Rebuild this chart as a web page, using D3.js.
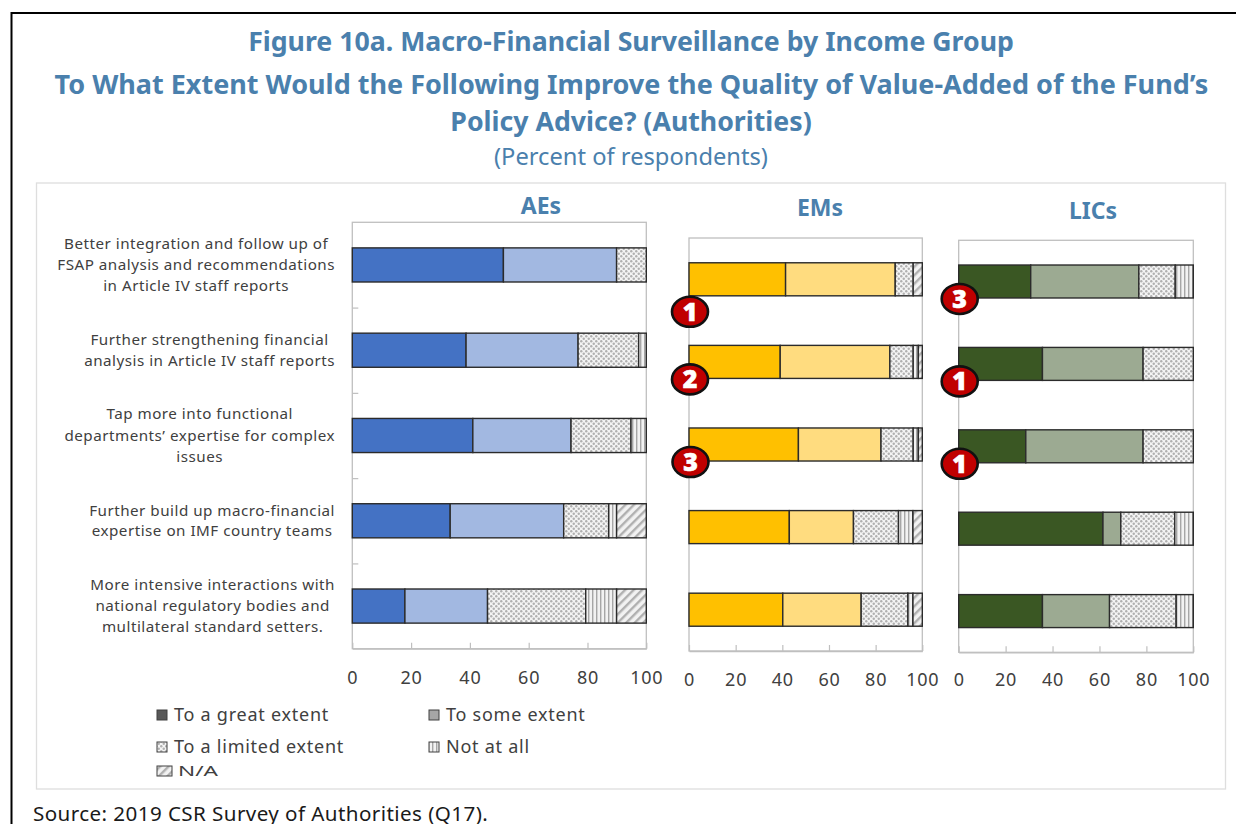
<!DOCTYPE html>
<html>
<head>
<meta charset="utf-8">
<script src="https://cdn.jsdelivr.net/npm/d3@7"></script>
<style>
html, body { margin: 0; padding: 0; background: #fff; overflow: hidden; }
svg { display: block; font-family: "Noto Sans", "Open Sans", sans-serif; }
</style>
</head>
<body>
<svg id="chart" width="1236" height="824"></svg>
<script>
const seriesNames = ["To a great extent", "To some extent", "To a limited extent", "Not at all", "N/A"];
const seriesKeys = ["great", "some", "limited", "notAtAll", "na"];
const rowLabels = [
  ["Better integration and follow up of", "FSAP analysis and recommendations", "in Article IV staff reports"],
  ["Further strengthening financial", "analysis in Article IV staff reports"],
  ["Tap more into functional", "departments\u2019 expertise for complex", "issues"],
  ["Further build up macro-financial", "expertise on IMF country teams"],
  ["More intensive interactions with", "national regulatory bodies and", "multilateral standard setters."]
];
const xTicks = [0, 20, 40, 60, 80, 100];

// values per row, top row first
const aesGreat = [51.4, 38.7, 41.0, 33.3, 17.9];
const aesSome = [38.5, 38.1, 33.4, 38.6, 28.1];
const aesLimited = [10.1, 20.6, 20.4, 15.3, 33.4];
const aesNotAtAll = [0, 2.6, 5.2, 2.7, 10.5];
const aesNa = [0, 0, 0, 10.1, 10.1];

const emsGreat = [41.4, 39.1, 46.9, 43.0, 40.2];
const emsSome = [47.0, 47.0, 35.4, 27.5, 33.6];
const emsLimited = [7.7, 10.0, 13.8, 19.3, 20.0];
const emsNotAtAll = [0, 2.2, 2.2, 6.2, 2.2];
const emsNa = [3.9, 1.7, 1.7, 4.0, 4.0];

const licsGreat = [30.7, 35.7, 28.6, 61.5, 35.7];
const licsSome = [46.1, 42.9, 50.0, 7.6, 28.6];
const licsLimited = [15.5, 21.4, 21.4, 23.0, 28.4];
const licsNotAtAll = [7.7, 0, 0, 7.9, 7.3];
const licsNa = [0, 0, 0, 0, 0];

// rank badges: row index and number shown
const emsBadgeRows = [0, 1, 2];
const emsBadgeRanks = [1, 2, 3];
const licsBadgeRows = [0, 1, 2];
const licsBadgeRanks = [3, 1, 1];

function buildRows(g, s, l, n, a) {
  return g.map(function(d, i) {
    return { row: i, great: d, some: s[i], limited: l[i], notAtAll: n[i], na: a[i] };
  });
}

const panels = [
  { name: "AEs", rows: buildRows(aesGreat, aesSome, aesLimited, aesNotAtAll, aesNa),
    box: [352.3, 646.3, 222.3, 648.7], titleX: 541, titleY: 214, labelY: 684,
    colors: ["#4472c4", "#a2b8e1"], rowTicks: true },
  { name: "EMs", rows: buildRows(emsGreat, emsSome, emsLimited, emsNotAtAll, emsNa),
    box: [689, 922.3, 238, 651], titleX: 820, titleY: 216, labelY: 686,
    colors: ["#ffc000", "#ffdc7f"], badgeRows: emsBadgeRows, badgeRanks: emsBadgeRanks, rowTicks: false },
  { name: "LICs", rows: buildRows(licsGreat, licsSome, licsLimited, licsNotAtAll, licsNa),
    box: [958.7, 1193.3, 240.3, 652.3], titleX: 1093, titleY: 219, labelY: 686,
    colors: ["#3a5723", "#9caa92"], badgeRows: licsBadgeRows, badgeRanks: licsBadgeRanks, rowTicks: false }
];

const blue = "#4a80ad";
const svg = d3.select("#chart");
const defs = svg.append("defs");

// hatch fills
const dots = defs.append("pattern").attr("id", "limited").attr("patternUnits", "userSpaceOnUse")
  .attr("width", 5).attr("height", 5);
dots.append("rect").attr("width", 5).attr("height", 5).attr("fill", "#f4f4f4");
dots.append("circle").attr("cx", 1.25).attr("cy", 1.25).attr("r", 1.2).attr("fill", "#b0b0b0");
dots.append("circle").attr("cx", 3.75).attr("cy", 3.75).attr("r", 1.2).attr("fill", "#b0b0b0");

const stripes = defs.append("pattern").attr("id", "notAtAll").attr("patternUnits", "userSpaceOnUse")
  .attr("width", 4).attr("height", 4);
stripes.append("rect").attr("width", 4).attr("height", 4).attr("fill", "#f2f2f2");
stripes.append("rect").attr("width", 1.4).attr("height", 4).attr("fill", "#a6a6a6");

const diag = defs.append("pattern").attr("id", "na").attr("patternUnits", "userSpaceOnUse")
  .attr("width", 6).attr("height", 6).attr("patternTransform", "rotate(45)");
diag.append("rect").attr("width", 6).attr("height", 6).attr("fill", "#f2f2f2");
diag.append("rect").attr("width", 2.4).attr("height", 6).attr("fill", "#b0b0b0");

// outer frame, open on the right and at the bottom
svg.append("path").attr("d", "M11.5,824V13H1236").attr("fill", "none")
  .attr("stroke", "#000").attr("stroke-width", 2);
svg.append("rect").attr("x", 36.5).attr("y", 183).attr("width", 1189).attr("height", 606)
  .attr("fill", "#fff").attr("stroke", "#dedede").attr("stroke-width", 1.3);

// titles
const titleLines = [
  ["Figure 10a. Macro-Financial Surveillance by Income Group", 51, 26.7, 631, "700"],
  ["To What Extent Would the Following Improve the Quality of Value-Added of the Fund\u2019s", 94, 27, 631.5, "700"],
  ["Policy Advice? (Authorities)", 131, 26.7, 631, "700"],
  ["(Percent of respondents)", 165, 23.7, 631, "400"]
];
svg.selectAll("text.title").data(titleLines).enter().append("text")
  .attr("class", "title")
  .attr("x", function(d) { return d[3]; })
  .attr("y", function(d) { return d[1]; })
  .attr("font-size", function(d) { return d[2]; })
  .attr("font-weight", function(d) { return d[4]; })
  .attr("text-anchor", "middle")
  .attr("fill", blue)
  .text(function(d) { return d[0]; });

// row labels, each block centred on itself and right aligned to the AEs plot
const labelBaselines = [[249, 270, 291], [345, 366], [419, 441, 462], [516, 536], [590, 611, 632]];
rowLabels.forEach(function(lines, i) {
  const g = svg.append("g");
  const texts = g.selectAll("text").data(lines).enter().append("text")
    .attr("y", function(d, j) { return labelBaselines[i][j]; })
    .attr("font-size", 15.2)
    .attr("letter-spacing", 0.5)
    .attr("fill", "#404040")
    .attr("text-anchor", "middle")
    .text(function(d) { return d; });
  let maxWidth = 0;
  texts.each(function() { maxWidth = Math.max(maxWidth, this.getComputedTextLength()); });
  texts.attr("x", 335 - maxWidth / 2);
});

const stack = d3.stack().keys(seriesKeys);

function fillFor(panel, key, i) {
  if (i < 2) return panel.colors[i];
  return "url(#" + key + ")";
}

panels.forEach(function(panel) {
  const x = d3.scaleLinear().domain([0, 100]).range([panel.box[0], panel.box[1]]);
  const y = d3.scaleBand().domain(d3.range(5)).range([panel.box[2], panel.box[3]]).padding(0.6).paddingOuter(0.3);
  const g = svg.append("g");

  g.append("text").attr("x", panel.titleX).attr("y", panel.titleY)
    .attr("text-anchor", "middle").attr("font-size", 23).attr("font-weight", 700)
    .attr("fill", blue).text(panel.name);

  g.append("rect").attr("x", panel.box[0]).attr("y", panel.box[2])
    .attr("width", panel.box[1] - panel.box[0]).attr("height", panel.box[3] - panel.box[2])
    .attr("fill", "#fff").attr("stroke", "#bfbfbf").attr("stroke-width", 1.3);

  // axis with ticks pointing into the plot
  const axis = g.append("g").attr("transform", "translate(0," + panel.box[3] + ")")
    .call(d3.axisBottom(x).tickValues(xTicks).tickSizeInner(-6).tickSizeOuter(0).tickPadding(0));
  axis.select(".domain").attr("stroke", "#bfbfbf").attr("stroke-width", 1.3);
  axis.selectAll(".tick line").attr("stroke", "#bfbfbf").attr("stroke-width", 1.2);
  axis.selectAll(".tick text")
    .attr("y", panel.labelY - panel.box[3]).attr("dy", 0)
    .attr("font-family", "\"Noto Sans\", sans-serif")
    .attr("font-size", 18).attr("letter-spacing", 0.8).attr("fill", "#404040");

  if (panel.rowTicks) {
    const yEdge = d3.scaleLinear().domain([0, 5]).range([panel.box[2], panel.box[3]]);
    const left = g.append("g").attr("transform", "translate(" + panel.box[0] + ",0)")
      .call(d3.axisLeft(yEdge).tickValues([1, 2, 3, 4]).tickSizeInner(-6).tickSizeOuter(0).tickFormat(""));
    left.select(".domain").remove();
    left.selectAll(".tick line").attr("stroke", "#bfbfbf").attr("stroke-width", 1.2);
  }

  // stacked bars
  stack(panel.rows).forEach(function(layer, i) {
    g.append("g").selectAll("rect").data(layer.filter(function(d) { return d[1] - d[0] > 0; }))
      .enter().append("rect")
      .attr("x", function(d) { return x(d[0]); })
      .attr("y", function(d) { return y(d.data.row); })
      .attr("width", function(d) { return x(d[1]) - x(d[0]); })
      .attr("height", y.bandwidth())
      .attr("fill", fillFor(panel, layer.key, i))
      .attr("stroke", "#2b2b2b")
      .attr("stroke-width", 1.4);
  });

  // rank badges
  (panel.badgeRows || []).forEach(function(row, i) {
    // the first EMs badge sits lower, clear of its bar
    const extra = panel.name === "EMs" && row === 0 ? 16 : 1;
    const cx = x(0) + (panel.name === "EMs" && row === 2 ? 1.5 : 1);
    const cy = y(row) + y.bandwidth() + extra;
    g.append("ellipse").attr("cx", cx).attr("cy", cy).attr("rx", 18).attr("ry", 15)
      .attr("fill", "#c00000").attr("stroke", "#111").attr("stroke-width", 2.6);
    g.append("text").attr("x", cx).attr("y", cy + 9)
      .attr("text-anchor", "middle").attr("font-size", 25).attr("font-weight", 800)
      .attr("font-family", "\"Open Sans\", sans-serif")
      .attr("fill", "#fff").attr("stroke", "#fff").attr("stroke-width", 0.6)
      .text(panel.badgeRanks[i]);
  });
});

// legend
const legendCols = [157, 429];
const legendRows = [715, 747];
const legendFills = ["#595959", "#a6a6a6", "url(#limited)", "url(#notAtAll)", "url(#na)"];
const legend = svg.append("g");
seriesNames.forEach(function(name, i) {
  const isNa = i === 4;
  const lx = legendCols[i % 2];
  const ly = isNa ? 771 : legendRows[Math.floor(i / 2)];
  legend.append("rect").attr("x", lx).attr("y", ly - 5)
    .attr("width", isNa ? 15 : 10).attr("height", 10)
    .attr("fill", legendFills[i]).attr("stroke", "#404040").attr("stroke-width", 1);
  const label = legend.append("text").attr("x", isNa ? lx + 21 : lx + 17).attr("y", isNa ? ly + 5 : ly + 6)
    .attr("font-size", isNa ? 14 : 18).attr("letter-spacing", isNa ? 0 : 0.75)
    .attr("fill", "#404040").text(name);
  if (isNa) label.attr("textLength", 40).attr("lengthAdjust", "spacingAndGlyphs");
});

svg.append("text").attr("x", 33).attr("y", 821).attr("font-size", 20.6).attr("letter-spacing", 0.42)
  .attr("fill", "#1a1a1a")
  .text("Source: 2019 CSR Survey of Authorities (Q17).");
</script>
</body>
</html>
